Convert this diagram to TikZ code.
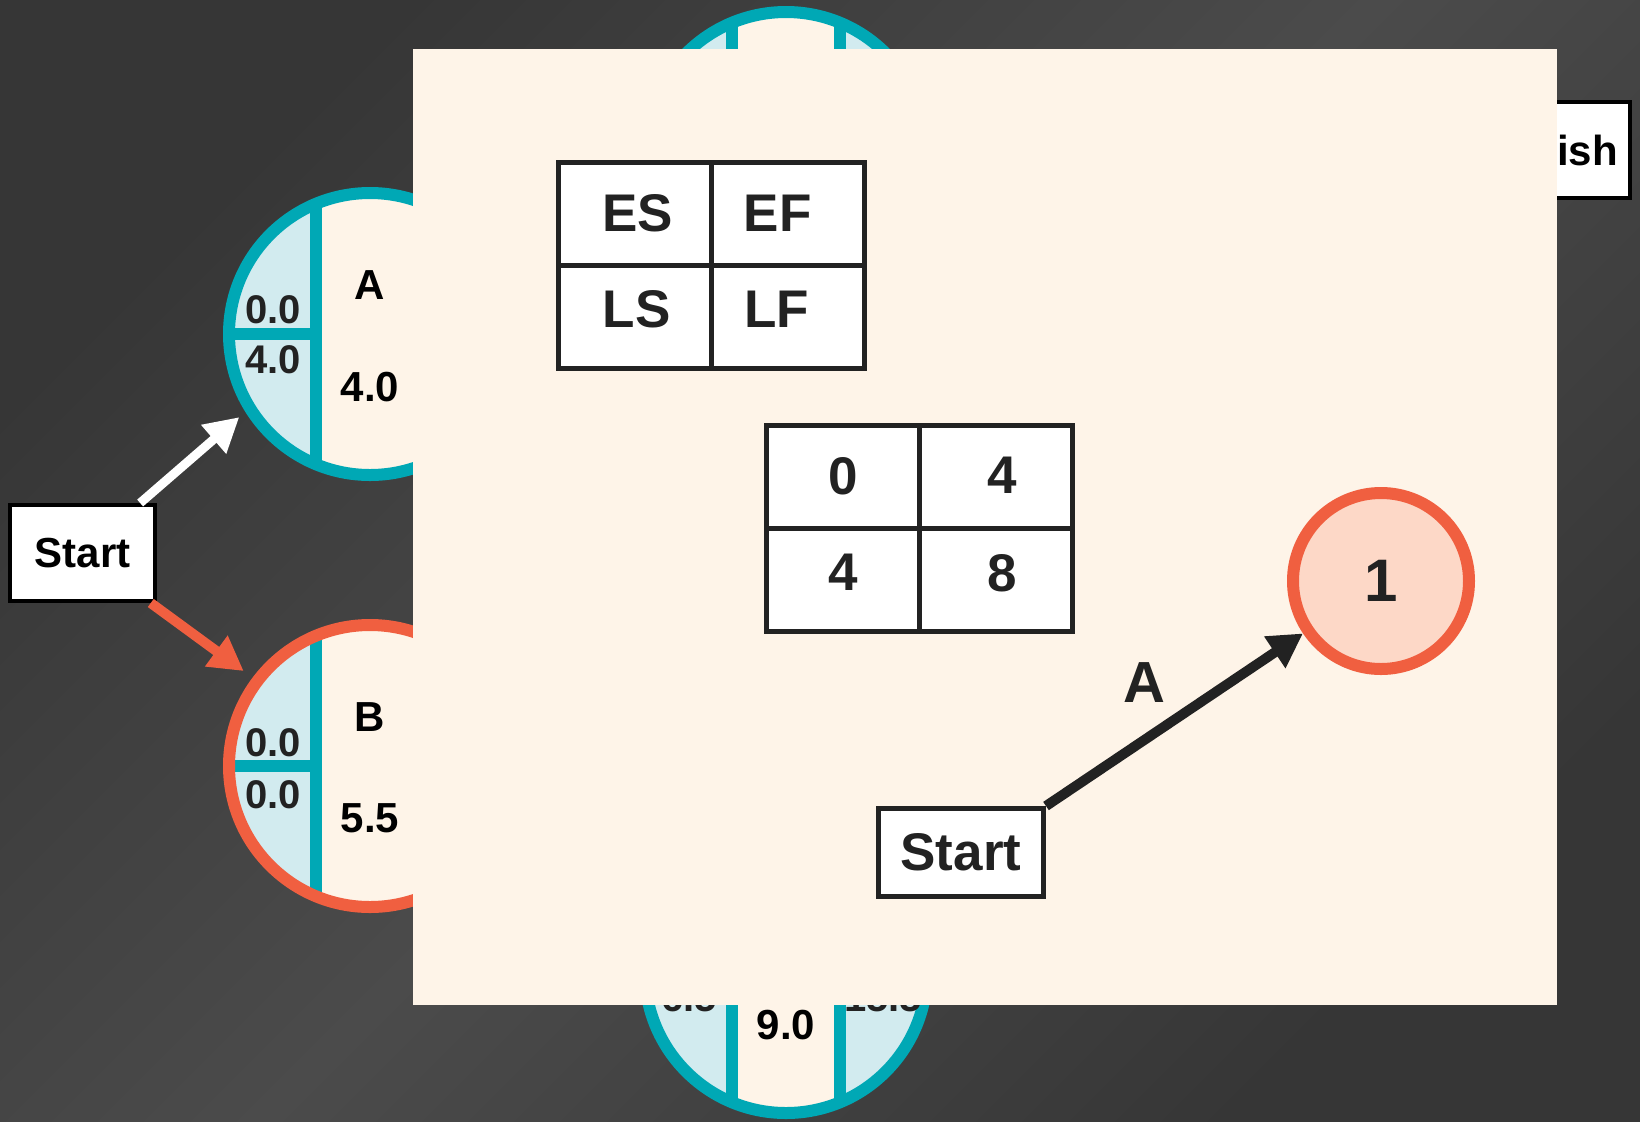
\documentclass[tikz,border=0pt]{standalone}
\usepackage{fontspec}
\setmainfont{Liberation Sans}
\usetikzlibrary{arrows.meta,positioning}
\definecolor{bgdark}{HTML}{363636}
\definecolor{bglight}{HTML}{4B4B4B}
\definecolor{pertteal}{HTML}{00A8B5}
\definecolor{pertred}{HTML}{F05F40}
\definecolor{pertpale}{HTML}{D2EBEF}
\definecolor{pertcream}{HTML}{FEF4E8}
\definecolor{pertpeach}{HTML}{FDD8C7}
\definecolor{pertink}{HTML}{222222}
\tikzstyle{activity} = [circle, minimum size=141pt, inner sep=0pt, line width=6pt, fill=pertcream,
    path picture={
      \fill[pertpale] ([xshift=-27pt]path picture bounding box.north) rectangle (path picture bounding box.south west);
      \fill[pertpale] ([xshift=27pt]path picture bounding box.north) rectangle (path picture bounding box.south east);
      \draw[pertteal, line width=6pt] ([xshift=-27pt]path picture bounding box.north) -- ([xshift=-27pt]path picture bounding box.south);
      \draw[pertteal, line width=6pt] ([xshift=27pt]path picture bounding box.north) -- ([xshift=27pt]path picture bounding box.south);
      \draw[pertteal, line width=6pt] (path picture bounding box.west) -- ([xshift=-27pt]path picture bounding box.center);
      \draw[pertteal, line width=6pt] (path picture bounding box.east) -- ([xshift=27pt]path picture bounding box.center);
    }]
\tikzstyle{actteal} = [activity, draw=pertteal]
\tikzstyle{actred} = [activity, draw=pertred]
\tikzstyle{edgeval} = [inner sep=0pt, text=pertink, font=\fontsize{20}{24}\selectfont\bfseries]
\tikzstyle{actname} = [inner sep=0pt, text=black, font=\fontsize{21}{25}\selectfont\bfseries]
\tikzstyle{endbox} = [rectangle, draw=black, line width=2pt, fill=white, minimum width=72.5pt,
    minimum height=48pt, font=\fontsize{21}{25}\selectfont\bfseries]
\tikzstyle{cell} = [rectangle, draw=pertink, line width=2.5pt, fill=white, minimum width=76.5pt,
    minimum height=51.5pt, inner sep=0pt]
\tikzstyle{celltext} = [inner sep=0pt, text=pertink, font=\fontsize{26.5}{30}\selectfont\bfseries]
\tikzstyle{arrow} = [-{Triangle[length=17pt,width=18pt]}, line width=4.5pt]

\begin{document}
\begin{tikzpicture}[x=0.5pt, y=-0.5pt]
\useasboundingbox (0,0) rectangle (1640,1121);
\shade[top color=bgdark, bottom color=bgdark, middle color=bglight, shading angle=45] (0,0) rectangle (1640,1121);

\node[actteal] (actA) at (370,334) {};
\node[edgeval] (actAes) at ([shift={(-97,-24)}]actA) {0.0};
\node[edgeval] (actAls) at ([shift={(-97,26)}]actA) {4.0};
\node[actname] (actAname) at ([shift={(0,-49)}]actA) {A};
\node[actname] (actAdur) at ([shift={(0,53)}]actA) {4.0};

\node[actred] (actB) at (370,766) {};
\node[edgeval] (actBes) at ([shift={(-97,-23)}]actB) {0.0};
\node[edgeval] (actBls) at ([shift={(-97,29)}]actB) {0.0};
\node[actname] (actBname) at ([shift={(0,-49)}]actB) {B};
\node[actname] (actBdur) at ([shift={(0,52)}]actB) {5.5};

\node[actteal] (actC) at (786,153) {};
\node[actteal] (actD) at (786,972) {};
\node[edgeval] (actDls) at ([shift={(-97,26)}]actD) {6.5};
\node[edgeval] (actDlf) at ([shift={(97,26)}]actD) {15.5};
\node[actname] (actDdur) at ([shift={(0,53)}]actD) {9.0};

\node[endbox] (start) at (82.5,553) {Start};
\node[endbox, minimum width=74pt] (finish) at (1556,150) {Finish};

\draw[arrow, white, shorten >=4pt] (start) -- (actA.212.5);
\draw[arrow, pertred, line width=5pt, shorten >=5.5pt] (start) -- (actB.143.5);

\fill[pertcream] (413,49) rectangle (1557,1005);

\node[cell] (keyES) at (634.75,214.25) {};
\node[cell] (keyEF) at (787.75,214.25) {};
\node[cell] (keyLS) at (634.75,317.25) {};
\node[cell] (keyLF) at (787.75,317.25) {};
\node[celltext] (keyEStext) at ([shift={(3,-1)}]keyES) {ES};
\node[celltext] (keyEFtext) at ([shift={(-10,-1)}]keyEF) {EF};
\node[celltext] (keyLStext) at ([shift={(2,-8)}]keyLS) {LS};
\node[celltext] (keyLFtext) at ([shift={(-11,-8)}]keyLF) {LF};

\node[cell] (valES) at (842.75,476.75) {};
\node[cell] (valEF) at (995.75,476.75) {};
\node[cell] (valLS) at (842.75,579.75) {};
\node[cell] (valLF) at (995.75,579.75) {};
\node[celltext] (valEStext) at ([shift={(0,-1)}]valES) {0};
\node[celltext] (valEFtext) at ([shift={(6,-1)}]valEF) {4};
\node[celltext] (valLStext) at ([shift={(0,-7)}]valLS) {4};
\node[celltext] (valLFtext) at ([shift={(6,-7)}]valLF) {8};

\node[circle, minimum size=88pt, inner sep=0pt, line width=6pt, draw=pertred, fill=pertpeach,
    text=pertink, font=\fontsize{30}{34}\selectfont\bfseries] (event1) at (1381,581) {1};
\node[endbox, draw=pertink, line width=2.5pt, minimum width=82.5pt, minimum height=44pt,
    font=\fontsize{26.5}{30}\selectfont\bfseries, text=pertink] (start2) at (961,852.5) {Start};

\draw[arrow, pertink, line width=5pt] (start2.north east) -- node[pos=0.5, anchor=south east, inner sep=2pt, yshift=4pt,
    text=pertink, font=\fontsize{29}{33}\selectfont\bfseries] (labA) {A} (event1);
\end{tikzpicture}
\end{document}
